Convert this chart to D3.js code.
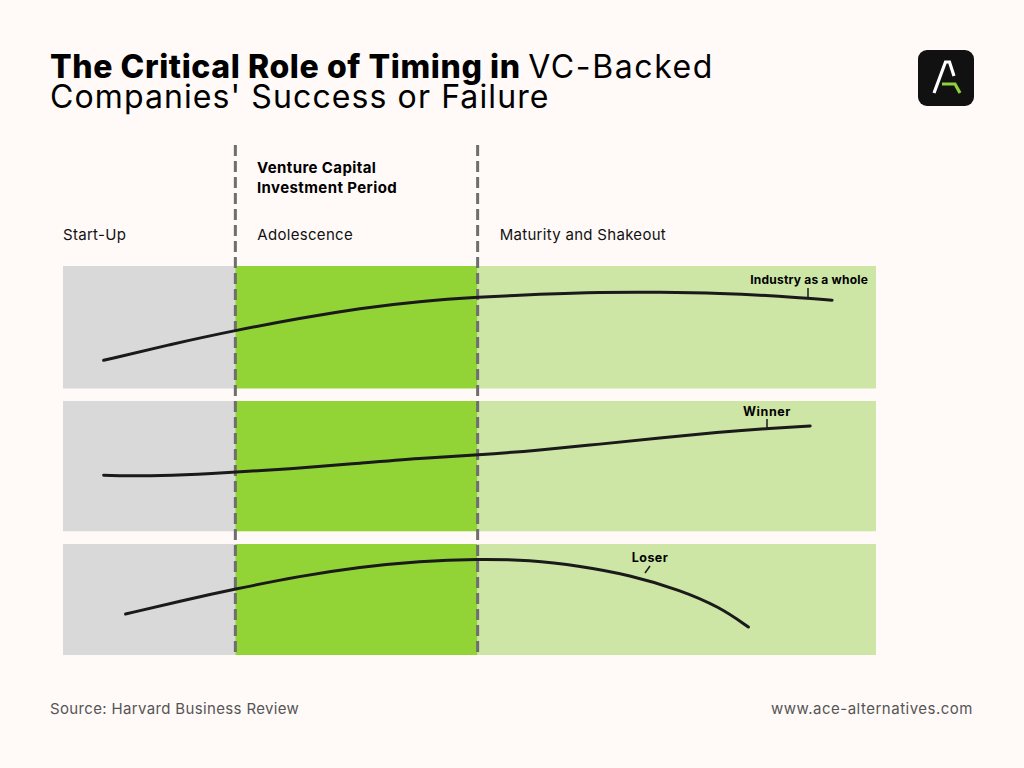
<!DOCTYPE html>
<html>
<head>
<meta charset="utf-8">
<script src="https://cdn.jsdelivr.net/npm/d3@7"></script>
<style>
body{margin:0;background:#fffaf8;}
svg{display:block;font-family:"Inter",sans-serif;}
</style>
</head>
<body>
<div id="chart"></div>
<script>
var width = 1024,
height = 768,
bg = "#fffaf8";

// stages (x in % of the time axis)
var stages = ["Start-Up","Adolescence","Maturity and Shakeout"];
var stageBounds = [0, 21.2, 51, 100];
var stageColors = ["#d9d9d9","#92d336","#cde5a5"];

// rows
var rowNames = ["Industry as a whole","Winner","Loser"];

// curve values (x %, y %)
var industryX = [5,13.2,21.2,29.2,36.5,43.9,51,58.7,66,73.4,80.8,88.2,94.6];
var industryY = [23,36,47.5,57.4,65.6,71.3,74.6,77,78.7,78.7,77.9,75.4,72.1];
var winnerX = [5,10.7,16.9,21.2,29.2,36.5,43.9,51,58.7,66,73.4,80.8,85.7,91.9];
var winnerY = [43,42.3,43.8,45.4,48.5,52.3,56.2,58.5,62.3,66.9,71.5,76.2,78.5,80.8];
var loserX = [7.7,14.4,21.2,29.2,36.5,43.9,51,57.4,63.6,69.7,75.9,80.8,84.3];
var loserY = [36.9,48.6,59.5,71.2,79.3,84.7,86.5,85.6,80.2,72.1,58.6,43.2,25.2];

var svg = d3.select("#chart").append("svg")
	.attr("width",width)
	.attr("height",height)
	.style("background-color",bg);

// title (one text, two lines)
var t1 = svg.append("text").attr("x",50).attr("y",78).attr("font-size",32).attr("fill","#000");
t1.append("tspan").attr("font-weight",800).attr("letter-spacing",0.6).text("The Critical Role of Timing in ");
t1.append("tspan").attr("font-weight",400).attr("letter-spacing",1.6).text("VC-Backed");
t1.append("tspan").attr("x",50).attr("dy",30).attr("font-weight",400).attr("letter-spacing",1.1)
	.text("Companies' Success or Failure");

// logo
svg.append("rect").attr("x",918).attr("y",50).attr("width",56).attr("height",56).attr("rx",9).attr("fill","#111");
svg.append("path").attr("d","M934,93 L945.5,62 L949.5,62 L954,76")
	.attr("fill","none").attr("stroke","#fff").attr("stroke-width",3.2).attr("stroke-linejoin","miter");
svg.append("path").attr("d","M942,84 L955,84 L960,93")
	.attr("fill","none").attr("stroke","#8fd13a").attr("stroke-width",3.2);

var x = d3.scaleLinear().domain([0,100]).range([63,876]);

var rows = [
	{name:rowNames[0], top:266, bottom:388.5, xs:industryX, ys:industryY},
	{name:rowNames[1], top:401, bottom:531.3, xs:winnerX, ys:winnerY},
	{name:rowNames[2], top:544, bottom:655, xs:loserX, ys:loserY}
];

rows.forEach(function(r){
	for(i=0;i<3;i++){
		svg.append("rect")
			.attr("x",x(stageBounds[i]))
			.attr("y",r.top)
			.attr("width",x(stageBounds[i+1])-x(stageBounds[i]))
			.attr("height",r.bottom-r.top)
			.attr("fill",stageColors[i]);
	}
});

// dashed period lines
[1,2].forEach(function(i){
	svg.append("line")
		.attr("x1",x(stageBounds[i])).attr("x2",x(stageBounds[i]))
		.attr("y1",145).attr("y2",655)
		.attr("stroke","#6e6e6e").attr("stroke-width",3)
		.attr("stroke-dasharray","11,5");
});

// stage labels
stages.forEach(function(s,i){
	svg.append("text")
		.attr("x",x(stageBounds[i]) + (i==0 ? 0 : 22))
		.attr("y",240)
		.attr("font-size",15)
		.attr("letter-spacing",0.3)
		.attr("fill","#111")
		.text(s);
});
var vc = svg.append("text").attr("x",257).attr("y",173).attr("font-size",15).attr("font-weight",700).attr("letter-spacing",0.4);
vc.append("tspan").text("Venture Capital");
vc.append("tspan").attr("x",257).attr("dy",20).text("Investment Period");

// curves
var line = d3.line().curve(d3.curveBasis);
rows.forEach(function(r){
	var y = d3.scaleLinear().domain([0,100]).range([r.bottom,r.top]);
	var pts = r.xs.map(function(v,k){ return [x(v), y(r.ys[k])]; });
	svg.append("path")
		.attr("d",line(pts))
		.attr("fill","none")
		.attr("stroke","#1a1a1a")
		.attr("stroke-width",3)
		.attr("stroke-linecap","round");
});

// annotations
svg.append("line").attr("x1",808).attr("x2",808).attr("y1",288).attr("y2",297).attr("stroke","#1a1a1a").attr("stroke-width",1.5);
svg.append("text").attr("x",868).attr("y",284).attr("text-anchor","end").attr("font-size",12).attr("font-weight",700).attr("letter-spacing",0.2).text(rowNames[0]);

svg.append("line").attr("x1",767).attr("x2",767).attr("y1",419).attr("y2",428).attr("stroke","#1a1a1a").attr("stroke-width",1.5);
svg.append("text").attr("x",767).attr("y",416).attr("text-anchor","middle").attr("font-size",12.5).attr("font-weight",700).attr("letter-spacing",0.6).text(rowNames[1]);

svg.append("line").attr("x1",650).attr("x2",645).attr("y1",566).attr("y2",573).attr("stroke","#1a1a1a").attr("stroke-width",1.5);
svg.append("text").attr("x",650).attr("y",562).attr("text-anchor","middle").attr("font-size",12.5).attr("font-weight",700).attr("letter-spacing",0.4).text(rowNames[2]);

// footer
svg.append("text").attr("x",50).attr("y",714).attr("font-size",15).attr("letter-spacing",0.35).attr("fill","#555").text("Source: Harvard Business Review");
svg.append("text").attr("x",973).attr("y",714).attr("text-anchor","end").attr("font-size",15).attr("letter-spacing",0.5).attr("fill","#555").text("www.ace-alternatives.com");
</script>
</body>
</html>
